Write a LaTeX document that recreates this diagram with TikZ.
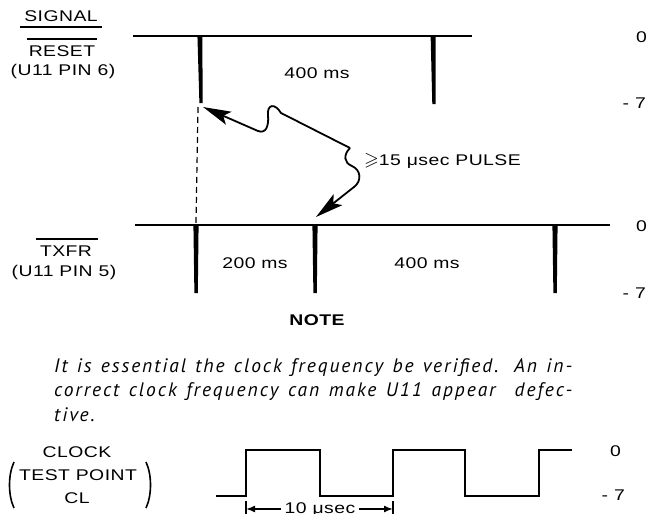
\documentclass[tikz,border=0pt]{standalone}
\usepackage{fontspec}
\usepackage{amssymb}
\usetikzlibrary{arrows.meta}
\newfontfamily\labf[FakeStretch=1.25,LetterSpace=3]{Liberation Sans}
\newfontfamily\parf[LetterSpace=10]{PT Sans}
\begin{document}
\begin{tikzpicture}[x=1pt,y=-1pt,
  lab/.style={font=\labf\fontsize{15.5}{18}\selectfont, inner sep=0pt},
  labb/.style={font=\labf\bfseries\fontsize{15.5}{18}\selectfont, inner sep=0pt},
  para/.style={font=\parf\itshape\fontsize{19.5}{22}\selectfont, inner sep=0pt, anchor=west},
  bar/.style={line width=1.3pt},
  wave/.style={line width=2.6pt},
  clk/.style={line width=1.5pt},
  dsh/.style={line width=1.2pt, dash pattern=on 6pt off 4pt},
  ptr/.style={line width=1.8pt, -{Stealth[length=28pt,width=14pt,inset=6pt]}},
  dim/.style={line width=1.5pt, -{Latex[length=9pt,width=7pt]}},
  paren/.style={line width=1.6pt}]
\clip (0,0) rectangle (659,514);
\fill[white] (0,0) rectangle (659,514);

% ---- left labels
\node[lab] (signal) at (61,16) {SIGNAL};
\draw[bar] (20,27) -- (102,27);
\draw[bar] (27,39) -- (97,39);
\node[lab] (reset) at (62,51) {RESET};
\node[lab] (pin6) at (63,71) {(U11 PIN 6)};

\draw[bar] (36,239) -- (98,239);
\node[lab] (txfr) at (66,251) {TXFR};
\node[lab] (pin5) at (64,272) {(U11 PIN 5)};

% ---- top waveform
\draw[wave] (133,36) -- (472,36);
\fill (197.4,35) -- (202.4,35) -- (202.6,103) -- (199.4,103) -- cycle;
\fill (430.6,35) -- (435.6,35) -- (435.5,104) -- (432.3,104) -- cycle;
\node[lab] (t400) at (317,73) {400 ms};

% ---- bottom waveform
\draw[wave] (135,225) -- (610,225);
\fill (193.4,224) -- (198.6,224) -- (197.8,293) -- (194.4,293) -- cycle;
\fill (312.4,224) -- (317.6,224) -- (316.8,293) -- (313.4,293) -- cycle;
\fill (552.4,224) -- (557.6,224) -- (556.8,293) -- (553.4,293) -- cycle;
\node[lab] (b200) at (255,263) {200 ms};
\node[lab] (b400) at (427,263) {400 ms};

% ---- level labels
\node[lab,anchor=east] (z1) at (647,37) {0};
\node[lab,anchor=east] (m1) at (646,103) {- 7};
\node[lab,anchor=east] (z2) at (647,226) {0};
\node[lab,anchor=east] (m2) at (646,293) {- 7};

% ---- dashed link and pulse arrows
\draw[dsh] (198,107) -- (196,223);
\coordinate (j) at (350,148);
\coordinate (ta) at (203,107);
\coordinate (tb) at (316,217);
\draw[ptr] (j) -- (281,113) .. controls (275,103) and (267,104) .. (268,115)
  .. controls (269,126) and (266,134) .. (258,131) -- (ta);
\draw[ptr] (j) .. controls (343,155) and (344,163) .. (352,166)
  .. controls (361,170) and (362,181) .. (354,187) -- (tb);
\node[lab,anchor=west] (pulse) at (364,161) {{\fontsize{19}{20}\selectfont$\geqslant$}15 μsec PULSE};

% ---- note
\node[labb] (note) at (317,320) {NOTE};
\node[para] (p1) at (54,368) {\makebox[518pt][s]{It is essential the clock frequency be verified. An in-}};
\node[para] (p2) at (54,392) {\makebox[518pt][s]{correct clock frequency can make U11 appear\ \ defec-}};
\node[para] (p3) at (54,415) {tive.};

% ---- clock
\node[lab] (clock) at (77,452) {CLOCK};
\node[lab] (tp) at (78,475) {TEST POINT};
\node[lab] (cl) at (77,498) {CL};
\draw[paren] (14,462) .. controls (8,475) and (8,495) .. (14,508);
\draw[paren] (146,462) .. controls (152,475) and (152,495) .. (146,508);

\draw[clk] (216,496) -- (246,496) -- (246,450) -- (320,450) -- (320,496)
  -- (393,496) -- (393,450) -- (465,450) -- (465,496) -- (539,496)
  -- (539,450) -- (572,450);
\node[lab,anchor=east] (z3) at (621,451) {0};
\node[lab,anchor=east] (m3) at (625,495) {- 7};

\draw[line width=1.6pt] (246,501) -- (246,516);
\draw[line width=1.6pt] (393,501) -- (393,516);
\node[lab] (tenus) at (320,510) {10 μsec};
\coordinate (d1) at (246,509);
\coordinate (d2) at (393,509);
\draw[dim] (tenus.west) ++(-4,-1) -- (d1);
\draw[dim] (tenus.east) ++(4,-1) -- (d2);
\end{tikzpicture}
\end{document}
